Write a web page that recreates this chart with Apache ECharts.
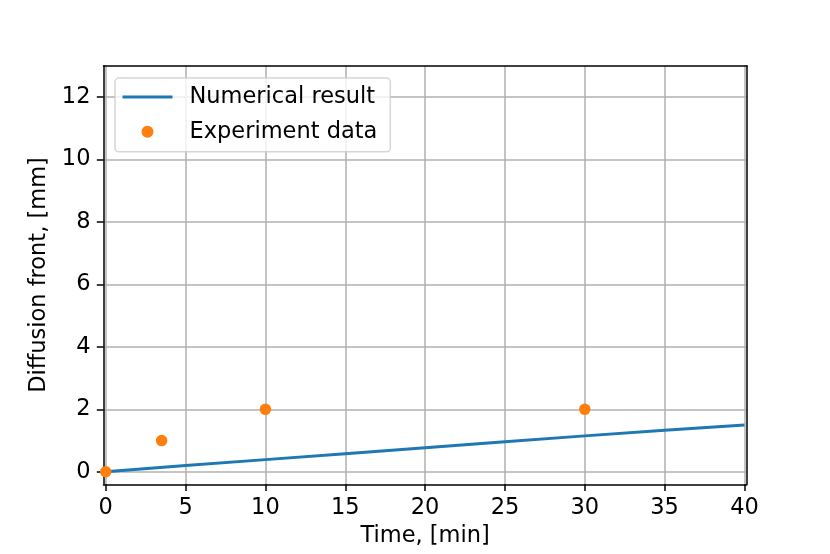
<!DOCTYPE html>
<html lang="en">
<head>
  <meta charset="UTF-8">
  <title>Diffusion front</title>
  <script src="https://cdn.jsdelivr.net/npm/echarts@6.0.0/dist/echarts.min.js"></script>
  <style>
    html, body, #main {
      margin: 0;
      padding: 0;
      width: 830px;
      height: 554px;
      background: #fff;
    }
  </style>
</head>
<body>
  <div id="main"></div>

  <script>
    // numerical result
    const simTime = [0, 5, 10, 15, 20, 25, 30, 35, 40];
    const simFront = [0, 0.2, 0.39, 0.58, 0.77, 0.96, 1.15, 1.33, 1.5];

    // experiment points
    const expTime = [0, 3.5, 10, 30];
    const expFront = [0, 1, 2, 2];

    // tick labels
    const xTicks = [0, 5, 10, 15, 20, 25, 30, 35, 40];
    const yTicks = [0, 2, 4, 6, 8, 10, 12];

    const font = 'DejaVu Sans';
    const fs = 22.5;

    const chart = echarts.init(document.getElementById('main'), null, { renderer: 'canvas' });

    const frameAxis = (pos, min, max) => ({
      type: 'value',
      position: pos,
      min: min,
      max: max,
      axisLine: { show: true, onZero: false, lineStyle: { color: '#000', width: 1.5 } },
      axisTick: { show: false },
      axisLabel: { show: false },
      splitLine: { show: false }
    });

    const option = {
      animation: false,
      backgroundColor: '#fff',
      textStyle: { fontFamily: font },
      grid: { left: 103.5, right: 83.3, top: 65.7, bottom: 69.7, containLabel: false },
      legend: {
        orient: 'vertical',
        left: 115,
        top: 78,
        itemWidth: 50,
        itemHeight: 12,
        itemGap: 11.8,
        padding: [7.5, 13, 8.5, 7.5],
        backgroundColor: 'rgba(255,255,255,0.8)',
        borderColor: 'rgba(204,204,204,0.8)',
        borderWidth: 1.5,
        borderRadius: 4,
        selectedMode: false,
        textStyle: { fontFamily: font, fontSize: fs, color: '#000', padding: [0, 0, 0, 12] },
        data: [
          { name: 'Numerical result', icon: 'path://M0,0L50,0L50,2.9L0,2.9Z' },
          { name: 'Experiment data', icon: 'circle' }
        ]
      },
      xAxis: [
        {
          type: 'value',
          position: 'bottom',
          min: -0.14,
          max: 40.14,
          splitNumber: 8,
          name: 'Time, [min]',
          nameLocation: 'middle',
          nameGap: 40,
          nameTextStyle: { fontFamily: font, fontSize: fs, color: '#000' },
          axisLine: { show: true, onZero: false, lineStyle: { color: '#000', width: 1.5 } },
          axisTick: { show: true, customValues: xTicks, length: 6.7, lineStyle: { color: '#000', width: 1.5 } },
          axisLabel: { customValues: xTicks, margin: 12, fontFamily: font, fontSize: fs, color: '#000' },
          splitLine: { show: true, lineStyle: { color: '#b0b0b0', width: 1.5 } }
        },
        frameAxis('top', -0.14, 40.14)
      ],
      yAxis: [
        {
          type: 'value',
          position: 'left',
          min: -0.4,
          max: 13,
          splitNumber: 7,
          name: 'Diffusion front, [mm]',
          nameLocation: 'middle',
          nameGap: 53,
          nameTextStyle: { fontFamily: font, fontSize: fs, color: '#000' },
          axisLine: { show: true, onZero: false, lineStyle: { color: '#000', width: 1.5 } },
          axisTick: { show: true, customValues: yTicks, length: 6.7, lineStyle: { color: '#000', width: 1.5 } },
          axisLabel: { customValues: yTicks, margin: 13, fontFamily: font, fontSize: fs, color: '#000' },
          splitLine: { show: true, lineStyle: { color: '#b0b0b0', width: 1.5 } }
        },
        frameAxis('right', -0.4, 13)
      ],
      series: [
        {
          name: 'Numerical result',
          type: 'line',
          xAxisIndex: 0,
          yAxisIndex: 0,
          showSymbol: false,
          symbol: 'none',
          lineStyle: { color: '#1f77b4', width: 2.9 },
          itemStyle: { color: '#1f77b4' },
          z: 2,
          data: simTime.map((t, i) => [t, simFront[i]])
        },
        {
          name: 'Experiment data',
          type: 'scatter',
          xAxisIndex: 0,
          yAxisIndex: 0,
          symbol: 'circle',
          symbolSize: 11.5,
          itemStyle: { color: '#ff7f0e', opacity: 1 },
          z: 3,
          data: expTime.map((t, i) => [t, expFront[i]])
        }
      ]
    };

    chart.setOption(option);
  </script>
</body>
</html>
